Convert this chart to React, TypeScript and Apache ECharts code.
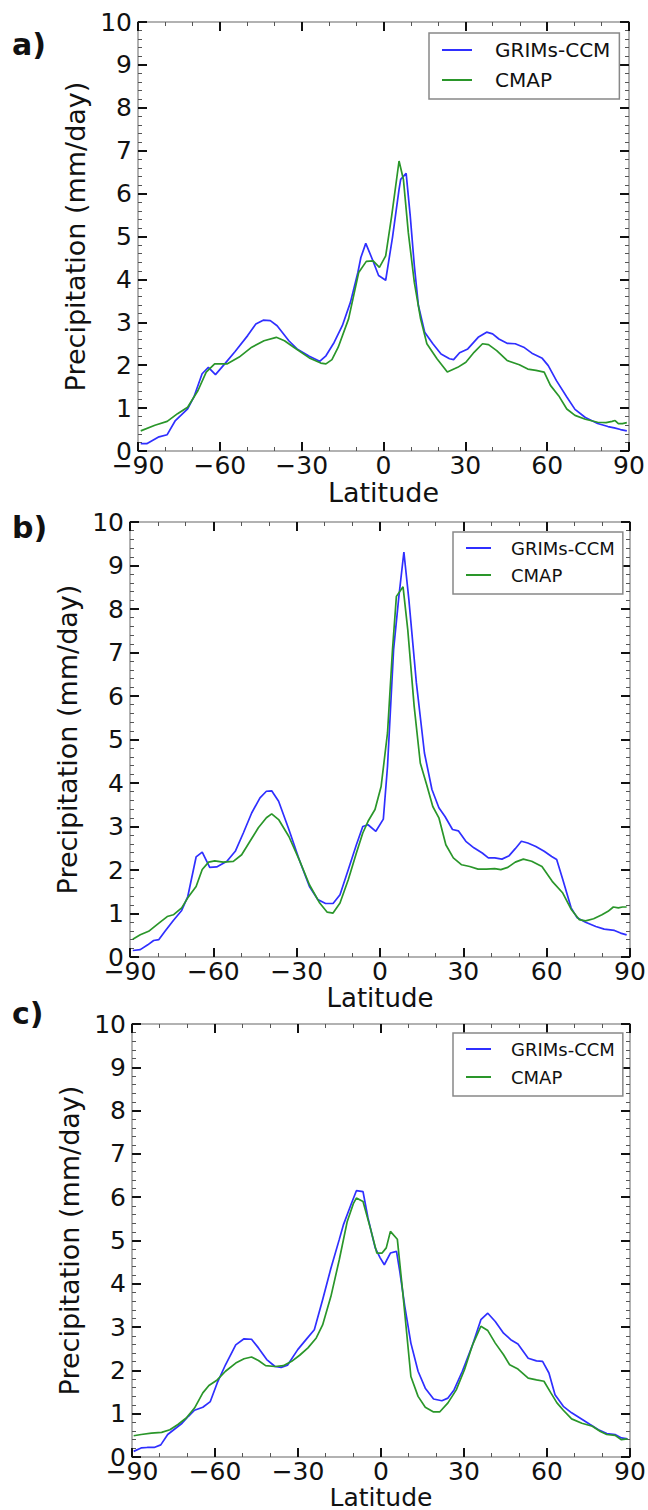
import React, { useEffect, useRef } from "react";
import * as echarts from "echarts";

// ---------- data ----------
const seriesNames = ["GRIMs-CCM", "CMAP"];
const panelLabels = ["a)", "b)", "c)"];
const xAxisName = "Latitude";
const yAxisName = "Precipitation (mm/day)";

// Panel a
const latA_G = [-89,-86.8,-82.3,-79.3,-76.3,-71.8,-69.5,-66.5,-64.2,-61.6,-58.2,-54.4,-49.8,-46.8,-44.1,-41.5,-39,-34.7,-31.7,-27.2,-23.4,-21.1,-18.1,-15.1,-12.1,-9.4,-8.3,-6.5,-4.1,-1.8,0.8,3.3,5.7,6.3,8.3,9.8,11.3,12.8,15.1,18.1,21.1,24.2,25.7,27.9,30.9,34.7,37.8,40,42.3,45.3,48.3,51.4,54.4,58.2,60.4,63.4,67.2,70.2,74,78.5,82.3,84.6,86.9,89.2];
const valA_G = [0.17,0.17,0.33,0.38,0.71,0.98,1.26,1.8,1.95,1.78,2.03,2.32,2.69,2.96,3.05,3.04,2.92,2.57,2.38,2.21,2.09,2.22,2.53,2.92,3.47,4.16,4.51,4.84,4.47,4.09,3.98,4.98,6.1,6.33,6.47,5.48,4.32,3.39,2.77,2.5,2.26,2.15,2.13,2.29,2.38,2.65,2.77,2.73,2.61,2.51,2.5,2.42,2.28,2.16,1.99,1.64,1.26,0.97,0.78,0.64,0.57,0.54,0.5,0.47];
const latA_C = [-89,-83.8,-79.3,-75.5,-71.8,-68,-65,-61.9,-57.4,-52.9,-48.3,-43.8,-39.3,-36.3,-32.5,-27.2,-23,-21.1,-18.9,-16.6,-12.8,-9.1,-6.3,-3.8,-1.5,0.8,3,5.7,7.3,9.1,11.3,13.6,15.9,19.6,23.4,27.2,30.2,33.2,36.3,38.5,41.5,45.3,49.8,52.9,55.9,58.9,61.2,64.2,67.2,70.2,74,78.5,81.6,83.8,84.9,86.1,87.6,89.2];
const valA_C = [0.47,0.6,0.69,0.87,1.02,1.41,1.84,2.03,2.03,2.19,2.42,2.57,2.65,2.57,2.4,2.17,2.05,2.03,2.13,2.42,3.08,4.16,4.42,4.43,4.28,4.55,5.48,6.76,6.33,5.09,3.93,3.08,2.5,2.15,1.84,1.95,2.07,2.3,2.5,2.48,2.34,2.11,2.01,1.91,1.88,1.84,1.53,1.29,0.98,0.83,0.74,0.67,0.66,0.69,0.71,0.64,0.64,0.66];

// Panel b
const latB_G = [-89,-86.3,-83.6,-81.5,-79.6,-77.4,-74.4,-71.4,-69.2,-66.2,-64,-61.3,-58.8,-55.1,-52.1,-49.2,-46.2,-43.2,-40.9,-39,-36.5,-32.8,-29.1,-25.4,-22.4,-19.6,-16.9,-14.4,-11.4,-8.5,-6.2,-4.3,-1.5,1.2,2.7,4.9,6.8,8.6,10.4,13.1,16,18.7,21.2,23.4,26.1,28.2,30.9,33.8,36.8,39,41.3,43.9,46.5,48.7,50.9,53.2,56.1,59.1,61.8,63.6,65.8,68.8,71,74,77.7,80.7,84.4,86.6,88.8];
const valB_G = [0.15,0.17,0.28,0.38,0.4,0.59,0.84,1.07,1.39,2.3,2.41,2.06,2.07,2.2,2.43,2.85,3.31,3.66,3.81,3.82,3.58,2.93,2.24,1.62,1.32,1.23,1.23,1.43,2.01,2.58,3,3.04,2.89,3.17,4.38,7.07,8.29,9.31,8.21,6.3,4.69,3.85,3.43,3.23,2.93,2.9,2.66,2.51,2.39,2.28,2.28,2.25,2.33,2.49,2.66,2.62,2.54,2.43,2.31,2.24,1.78,1.13,0.9,0.8,0.7,0.64,0.61,0.55,0.51];
const latB_C = [-89,-86.3,-83.3,-79.6,-76.6,-74.4,-71.4,-69.2,-66.2,-64,-61.7,-59.5,-56.5,-52.8,-49.8,-46.8,-43.8,-40.9,-39,-36.5,-32.8,-29.1,-25.4,-21.7,-19,-16.9,-14.4,-11.4,-8.5,-6.2,-4.3,-1.8,0.4,2.7,4.5,5.9,8.3,10,12.3,14.5,16.8,19,21.2,23.7,26.4,29.4,32.3,35.3,38.3,41.3,43.5,46,48.7,51.6,54.6,58.3,62,65.8,68.8,71.7,74,76.9,79.9,82.1,84,85.8,87.3,88.8];
const valB_C = [0.41,0.51,0.59,0.78,0.93,0.97,1.13,1.36,1.62,2.01,2.18,2.21,2.18,2.2,2.35,2.66,2.97,3.2,3.29,3.16,2.77,2.24,1.66,1.24,1.03,1.01,1.24,1.78,2.39,2.85,3.12,3.39,3.92,5.15,7.07,8.29,8.51,7.52,5.76,4.46,3.96,3.46,3.2,2.58,2.28,2.12,2.08,2.02,2.02,2.03,2.01,2.06,2.18,2.25,2.2,2.08,1.74,1.47,1.1,0.86,0.83,0.88,0.97,1.05,1.15,1.13,1.15,1.15];

// Panel c
const latC_G = [-89.4,-86.7,-84.5,-82,-79.6,-77.1,-74.1,-71.9,-69.6,-67.4,-64.4,-61.7,-59.2,-56.2,-52.5,-49.5,-46.8,-44.3,-41.3,-38.3,-36.1,-33.8,-30.1,-27.1,-24.1,-21.1,-18.1,-15.1,-13.6,-10.9,-8.9,-6.5,-4.7,-2.1,-0.3,1.2,3.4,5.6,6.8,8.6,10.8,13.4,16,19,22,24.2,26.4,29.4,33.1,36.1,38.6,41.3,44.3,46.9,49.5,53.2,56.2,58.4,60.7,62.9,65.9,68.9,71.9,75.6,78.6,81.6,84.6,86.9,89.1];
const valC_G = [0.13,0.21,0.22,0.22,0.28,0.52,0.67,0.78,0.94,1.08,1.15,1.28,1.71,2.13,2.59,2.73,2.72,2.52,2.25,2.09,2.07,2.12,2.48,2.71,2.94,3.63,4.36,5.02,5.36,5.82,6.15,6.13,5.52,4.83,4.6,4.44,4.71,4.75,4.28,3.48,2.63,1.98,1.59,1.34,1.3,1.36,1.55,1.98,2.59,3.17,3.32,3.13,2.86,2.71,2.61,2.28,2.22,2.21,1.94,1.44,1.17,1.02,0.9,0.75,0.63,0.54,0.52,0.44,0.42];
const latC_C = [-89.4,-86.7,-83,-79.3,-76.3,-73.4,-70.4,-67.4,-64.4,-62.2,-59.2,-56.2,-52.5,-49.5,-46.8,-44.3,-41.7,-38.3,-35.3,-32.3,-29.4,-26.4,-23.4,-21.1,-18.1,-15.1,-12.2,-10,-8.9,-6.5,-4,-1.5,0.4,1.9,3.4,5.9,7.9,10.8,13.4,16,19,21.2,24.2,27.2,30.2,33.1,36.1,38.6,41.3,44.3,46.5,49.5,53.2,56.2,58.9,61.4,63.6,65.9,68.9,72.6,76.4,79.3,81.6,84.6,86.9,89.1];
const valC_C = [0.49,0.52,0.55,0.57,0.63,0.75,0.9,1.13,1.48,1.65,1.78,1.98,2.17,2.27,2.31,2.23,2.11,2.09,2.11,2.21,2.35,2.52,2.75,3.05,3.71,4.55,5.44,5.85,5.98,5.9,5.32,4.71,4.71,4.83,5.21,5.03,3.78,1.86,1.4,1.15,1.04,1.04,1.25,1.55,2.02,2.59,3.02,2.92,2.63,2.36,2.13,2.03,1.82,1.78,1.75,1.48,1.25,1.08,0.88,0.78,0.71,0.59,0.52,0.5,0.4,0.42];

const panelData = [
  [[latA_G, valA_G], [latA_C, valA_C]],
  [[latB_G, valB_G], [latB_C, valB_C]],
  [[latC_G, valC_G], [latC_C, valC_C]],
];

// ---------- layout / style ----------
const FONT = "DejaVu Sans";
const TEXT = "#111";
const COLORS = ["#2f2fff", "#2a962a"];
const grids = [
  { left: 138, top: 22, width: 491, height: 429 },
  { left: 130, top: 522, width: 500, height: 435 },
  { left: 132, top: 1024, width: 498, height: 433 },
];
const xNameGap = [28, 25, 21];
const xNameSize = [27, 26, 25];
const xNameLine = [27, 24, 25];
const yNameGap = [40, 33, 35];
const labelY = [44, 527, 1013];
const legends = [
  { left: 429, top: 33, padding: [7, 9, 9, 13], itemWidth: 30, fontSize: 20, gap: 10, textPad: 18 },
  { left: 453, top: 532, padding: [7, 8, 10, 13], itemWidth: 25, fontSize: 18, gap: 9, textPad: 15 },
  { left: 453, top: 1033, padding: [7, 8, 10, 13], itemWidth: 25, fontSize: 18, gap: 10, textPad: 15 },
];

const zip = (xs: number[], ys: number[]) => xs.map((x, i) => [x, ys[i]]);
const fmtX = (v: number) => String(v).replace("-", "\u2212");

function buildOption() {
  const axisLine = { show: true, onZero: false, lineStyle: { color: "#999", width: 1.5 } };
  const tick = { show: true, inside: true, length: 9, lineStyle: { color: "#111", width: 2 } };
  const xAxis: any[] = [];
  const yAxis: any[] = [];
  const series: any[] = [];
  grids.forEach((g, i) => {
    const baseX = {
      gridIndex: i, type: "value", min: -90, max: 90, interval: 30,
      axisLine, axisTick: tick,
      minorTick: { show: true, splitNumber: 3, length: 4, lineStyle: { color: "#555", width: 1 } },
      splitLine: { show: false }, minorSplitLine: { show: false },
    };
    xAxis.push({
      ...baseX, position: "bottom",
      axisLabel: { show: true, fontSize: 25, color: TEXT, fontFamily: FONT, margin: 2, formatter: fmtX, showMinLabel: true, showMaxLabel: true },
      name: xAxisName, nameLocation: "middle", nameGap: xNameGap[i],
      nameTextStyle: { fontSize: xNameSize[i], lineHeight: xNameLine[i], color: TEXT, fontFamily: FONT },
    });
    xAxis.push({ ...baseX, position: "top", axisLabel: { show: false } });
    const baseY = {
      gridIndex: i, type: "value", min: 0, max: 10, interval: 1,
      axisLine, axisTick: tick,
      minorTick: { show: true, splitNumber: 5, length: 4, lineStyle: { color: "#555", width: 1 } },
      splitLine: { show: false }, minorSplitLine: { show: false },
    };
    yAxis.push({
      ...baseY, position: "left",
      axisLabel: { show: true, fontSize: 25, color: TEXT, fontFamily: FONT, margin: 6, showMinLabel: true, showMaxLabel: true },
      name: yAxisName, nameLocation: "middle", nameGap: yNameGap[i], nameRotate: 90,
      nameTextStyle: { fontSize: 27, color: TEXT, fontFamily: FONT },
    });
    yAxis.push({ ...baseY, position: "right", axisLabel: { show: false } });
    panelData[i].forEach(([lats, vals], k) => {
      series.push({
        type: "line", name: seriesNames[k],
        xAxisIndex: 2 * i, yAxisIndex: 2 * i,
        data: zip(lats, vals),
        symbol: "none", smooth: false,
        lineStyle: { color: COLORS[k], width: 1.7 },
        itemStyle: { color: COLORS[k] },
        z: 3,
      });
    });
  });

  return {
    animation: false,
    backgroundColor: "#fff",
    grid: grids.map((g) => ({ ...g, containLabel: false, outerBoundsMode: "none" })),
    xAxis, yAxis, series,
    legend: legends.map((l) => ({
      data: seriesNames, orient: "vertical", left: l.left, top: l.top,
      padding: l.padding, itemWidth: l.itemWidth, itemHeight: 2, itemGap: l.gap,
      icon: "rect",
      borderColor: "#888", borderWidth: 1.5, borderRadius: 0, backgroundColor: "#fff",
      selectedMode: false,
      textStyle: { fontSize: l.fontSize, fontFamily: FONT, color: TEXT, padding: [0, 0, 0, l.textPad], lineHeight: l.fontSize },
    })),
    graphic: panelLabels.map((t, i) => ({
      type: "text", x: 12, y: labelY[i],
      style: { text: t, fontSize: 30, fontWeight: "bold", fontFamily: FONT, fill: TEXT, verticalAlign: "middle" },
    })),
  };
}

export default function App() {
  const ref = useRef<HTMLDivElement>(null);
  useEffect(() => {
    if (!ref.current) return;
    const chart = echarts.init(ref.current, undefined, { renderer: "svg" });
    chart.setOption(buildOption() as any);
    return () => chart.dispose();
  }, []);
  return (
    <div
      ref={ref}
      style={{ position: "absolute", left: 0, top: 0, width: 648, height: 1510, background: "#fff" }}
    />
  );
}
